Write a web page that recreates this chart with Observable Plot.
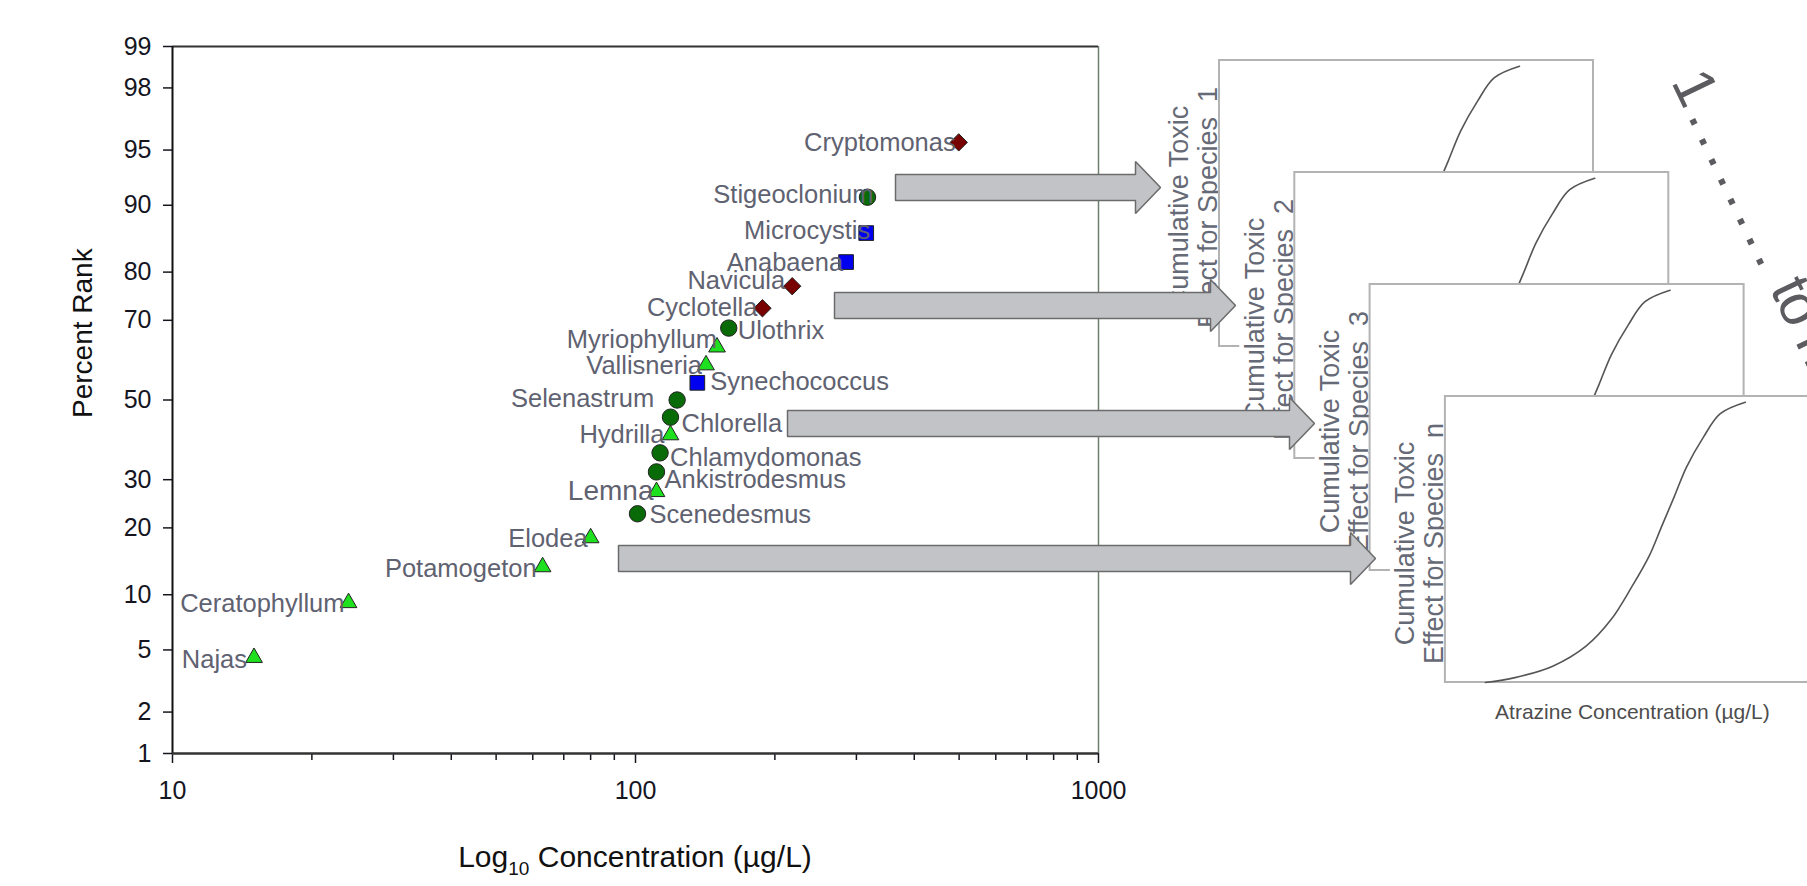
<!DOCTYPE html>
<html><head><meta charset="utf-8">
<script src="https://cdn.jsdelivr.net/npm/d3@7"></script>
<script src="https://cdn.jsdelivr.net/npm/@observablehq/plot@0.6"></script>
<style>
html,body{margin:0;padding:0;background:#fff;}
#wrap{position:relative;width:1807px;height:886px;overflow:hidden;background:#fff;}
#wrap svg{position:absolute;left:0;top:0;max-width:none;}
#wrap text{white-space:pre;}
</style></head><body><div id="wrap"></div>
<script>
// ---------- data ----------
const species = ["Cryptomonas","Stigeoclonium","Microcystis","Anabaena","Navicula","Cyclotella","Ulothrix","Myriophyllum","Vallisneria","Synechococcus","Selenastrum","Chlorella","Hydrilla","Chlamydomonas","Ankistrodesmus","Lemna","Scenedesmus","Elodea","Potamogeton","Ceratophyllum","Najas"];
const concentration = [499, 317, 315, 285, 218, 188, 159, 150, 142, 136, 123, 119, 119, 113, 111, 111, 101, 80, 63, 24, 15];
const percentRank = [95.5, 90.9, 86.4, 81.8, 77.3, 72.7, 68.2, 63.6, 59.1, 54.5, 50.0, 45.5, 40.9, 36.4, 31.8, 27.3, 22.7, 18.2, 13.6, 9.1, 4.5];
const taxonGroup = ["diatom","green","cyano","cyano","diatom","diatom","green","macrophyte","macrophyte","cyano","green","green","macrophyte","green","green","macrophyte","green","macrophyte","macrophyte","macrophyte","macrophyte"];
const yTicks = [1, 2, 5, 10, 20, 30, 50, 70, 80, 90, 95, 98, 99];
const xMajorTicks = [10, 100, 1000];
const xMinorTicks = [20, 30, 40, 50, 60, 70, 80, 90, 200, 300, 400, 500, 600, 700, 800, 900];
const panelNames = ["1", "2", "3", "n"];
// illustrative cumulative-effect curve (fraction of panel width / height)
const curveU = [0.107, 0.186, 0.287, 0.376, 0.443, 0.499, 0.544, 0.578, 0.612, 0.645, 0.690, 0.735, 0.802];
const curveV = [0.000, 0.017, 0.057, 0.127, 0.220, 0.336, 0.440, 0.545, 0.650, 0.754, 0.858, 0.940, 0.980];

// ---------- styles ----------
const FONT = "'Liberation Sans', Arial, Helvetica, sans-serif";
const groupStyle = {
  macrophyte: {symbol: "triangle", r: 6.2, fill: "#1ee01e"},
  green: {symbol: "circle", r: 8.2, fill: "#086b08"},
  cyano: {symbol: "square", r: 8.3, fill: "#0000f0"},
  diatom: {symbol: "diamond2", r: 7.8, fill: "#780000"}
};
const labelLayout = {
  Cryptomonas: ["end", -3, 0], Stigeoclonium: ["end", 6, -2], Microcystis: ["end", 4, -2],
  Anabaena: ["end", -3, 1], Navicula: ["end", -7, -5], Cyclotella: ["end", -5, 0],
  Ulothrix: ["start", 9, 3], Myriophyllum: ["end", 0, -7], Vallisneria: ["end", -4, 1],
  Synechococcus: ["start", 13, -1], Selenastrum: ["end", -23, -1], Chlorella: ["start", 11, 7],
  Hydrilla: ["end", -6, 0], Chlamydomonas: ["start", 10, 5], Ankistrodesmus: ["start", 8, 8],
  Lemna: ["end", -3, -1, 28], Scenedesmus: ["start", 12, 1], Elodea: ["end", -3, 1],
  Potamogeton: ["end", -6, 2], Ceratophyllum: ["end", -4, 1], Najas: ["end", -7, 2]
};

// inverse normal CDF (Acklam) for the probability axis
function probit(p) {
  const a = [-3.969683028665376e+01, 2.209460984245205e+02, -2.759285104469687e+02, 1.383577518672690e+02, -3.066479806614716e+01, 2.506628277459239e+00];
  const b = [-5.447609879822406e+01, 1.615858368580409e+02, -1.556989798598866e+02, 6.680131188771972e+01, -1.328068155288572e+01];
  const c = [-7.784894002430293e-03, -3.223964580411365e-01, -2.400758277161838e+00, -2.549732539343734e+00, 4.374664141464968e+00, 2.938163982698783e+00];
  const d = [7.784695709041462e-03, 3.224671290700398e-01, 2.445134137142996e+00, 3.754408661907416e+00];
  const lo = 0.02425;
  let q, r;
  if (p < lo) { q = Math.sqrt(-2 * Math.log(p)); return (((((c[0]*q+c[1])*q+c[2])*q+c[3])*q+c[4])*q+c[5]) / ((((d[0]*q+d[1])*q+d[2])*q+d[3])*q+1); }
  if (p > 1 - lo) { q = Math.sqrt(-2 * Math.log(1 - p)); return -(((((c[0]*q+c[1])*q+c[2])*q+c[3])*q+c[4])*q+c[5]) / ((((d[0]*q+d[1])*q+d[2])*q+d[3])*q+1); }
  q = p - 0.5; r = q * q;
  return (((((a[0]*r+a[1])*r+a[2])*r+a[3])*r+a[4])*r+a[5])*q / (((((b[0]*r+b[1])*r+b[2])*r+b[3])*r+b[4])*r+1);
}

const rows = species.map((name, i) => ({name, conc: concentration[i], rank: percentRank[i], group: taxonGroup[i]}));
const Y = d => probit(d.rank / 100);
const yTickPos = yTicks.map(t => probit(t / 100));
const yLabel = new Map(yTickPos.map((p, i) => [p, String(yTicks[i])]));

const W = 1807, H = 886;
const mL = 172, mR = W - 1098, mT = 46, mB = H - 753;

const dotMarks = Object.entries(groupStyle).map(([g, s]) =>
  Plot.dot(rows.filter(d => d.group === g), {x: "conc", y: Y, symbol: s.symbol, r: s.r, fill: s.fill, stroke: "#222", strokeWidth: 1})
);
const labelMarks = rows.map(d => {
  const [anchor, dx, dy, size] = labelLayout[d.name];
  return Plot.text([d], {x: "conc", y: Y, text: "name", textAnchor: anchor, dx, dy, fontSize: size || 25.5, fill: "#5f6271"});
});

const main = Plot.plot({
  width: W, height: H,
  marginLeft: mL, marginRight: mR, marginTop: mT, marginBottom: mB,
  style: {fontFamily: FONT, background: "transparent", overflow: "visible"},
  x: {type: "log", domain: [10, 1000]},
  y: {type: "linear", domain: [probit(0.01), probit(0.99)]},
  marks: [
    Plot.ruleX([1000], {stroke: "#6f7f6f", strokeWidth: 1.5}),
    Plot.ruleY([probit(0.99)], {stroke: "#333", strokeWidth: 2}),
    Plot.axisY(yTickPos, {tickSize: 9, tickPadding: 12, tickFormat: v => yLabel.get(v), fontSize: 25, color: "#15151f", strokeWidth: 1.5, label: null}),
    Plot.axisX(xMinorTicks, {tickSize: 7, tickFormat: () => "", color: "#15151f", strokeWidth: 1.5, label: null}),
    Plot.axisX(xMajorTicks, {tickSize: 10, tickPadding: 18, tickFormat: d => String(d), fontSize: 25, color: "#15151f", strokeWidth: 1.5, label: null}),
    Plot.ruleX([10], {stroke: "#111", strokeWidth: 2}),
    Plot.ruleY([probit(0.01)], {stroke: "#333", strokeWidth: 2.5}),
    ...dotMarks,
    ...labelMarks,
    Plot.text(["Percent Rank"], {text: d => d, frameAnchor: "left", dx: -89, dy: 18, rotate: -90, fontSize: 28, fill: "#111"})
  ]
});

// x-axis title with subscript
const ms = d3.select(main);
const xt = ms.append("text").attr("x", (mL + W - mR) / 2).attr("y", 867)
  .attr("text-anchor", "middle").attr("font-size", 30).attr("fill", "#111").attr("font-family", FONT);
xt.append("tspan").text("Log");
xt.append("tspan").attr("font-size", 19).attr("dy", 8).text("10");
xt.append("tspan").attr("dy", -8).text(" Concentration (µg/L)");

// ---------- schematic on the right ----------
const panelW = 374, panelH = 286;
const panels = panelNames.map((n, k) => ({n, k, left: 1219 + k * 75.3, top: 60 + k * 112}));
const arrowY = [187, 305, 423, 558];
const arrowStart = [895, 834, 787, 618];
const arrowTip = [1160, 1235, 1314, 1375];
const arrowPts = [];
arrowY.forEach((y, i) => {
  const x0 = arrowStart[i], t = arrowTip[i], hb = t - 25;
  [[x0, y - 13], [hb, y - 13], [hb, y - 26], [t, y], [hb, y + 26], [hb, y + 13], [x0, y + 13]]
    .forEach(([x, yy]) => arrowPts.push({id: i, x, y: yy}));
});

const schem = [];
panels.forEach(p => {
  schem.push(
    Plot.rect([p], {x1: d => d.left - 55, x2: d => d.left - 1, y1: d => d.top + 19, y2: d => d.top + 275, fill: "white"}),
    Plot.text([p], {x: d => d.left - 26, y: d => d.top + 147, text: d => `Cumulative Toxic\nEffect for Species  ${d.n}`,
      rotate: -90, fontSize: 27, lineHeight: 1.08, fill: "#666a76"}),
    Plot.rect([p], {x1: d => d.left, x2: d => d.left + panelW, y1: d => d.top, y2: d => d.top + panelH, fill: "white", stroke: "#b3b3b3", strokeWidth: 2}),
    Plot.line(curveU.map((u, i) => ({x: p.left + u * panelW, y: p.top + (1 - curveV[i]) * panelH})),
      {x: "x", y: "y", stroke: "#555", strokeWidth: 1.6, curve: "catmull-rom"})
  );
});
const last = panels[panels.length - 1];
const seriesText = "1........ to n";
schem.push(
  Plot.text(["Atrazine Concentration (µg/L)"], {text: d => d, x: last.left + panelW / 2, y: last.top + panelH + 30, fontSize: 21, fill: "#4d4d4d"}),
  Plot.line(arrowPts, {x: "x", y: "y", z: "id", fill: "#c2c3c7", stroke: "#6b6b6b", strokeWidth: 1.5, strokeLinejoin: "miter", curve: "linear-closed"}),
  Plot.text([seriesText], {text: d => d, x: 1687, y: 73, rotate: 64.5, textAnchor: "start", fontSize: 58, fill: "#5b5b60"})
);

const overlay = Plot.plot({
  width: W, height: H, margin: 0,
  style: {fontFamily: FONT, background: "transparent"},
  x: {domain: [0, W], range: [0, W], axis: null},
  y: {domain: [0, H], range: [0, H], axis: null},
  marks: schem
});

// spread the dots of "1........ to n" like the reference
d3.select(overlay).selectAll("text").filter(function() { return this.textContent === seriesText; })
  .each(function() {
    const t = d3.select(this);
    t.text(null);
    t.append("tspan").attr("letter-spacing", 6).text("1........");
    t.append("tspan").attr("letter-spacing", -2).text(" to n");
  });

const wrap = document.getElementById("wrap");
wrap.appendChild(main);
wrap.appendChild(overlay);
</script>
</body></html>
